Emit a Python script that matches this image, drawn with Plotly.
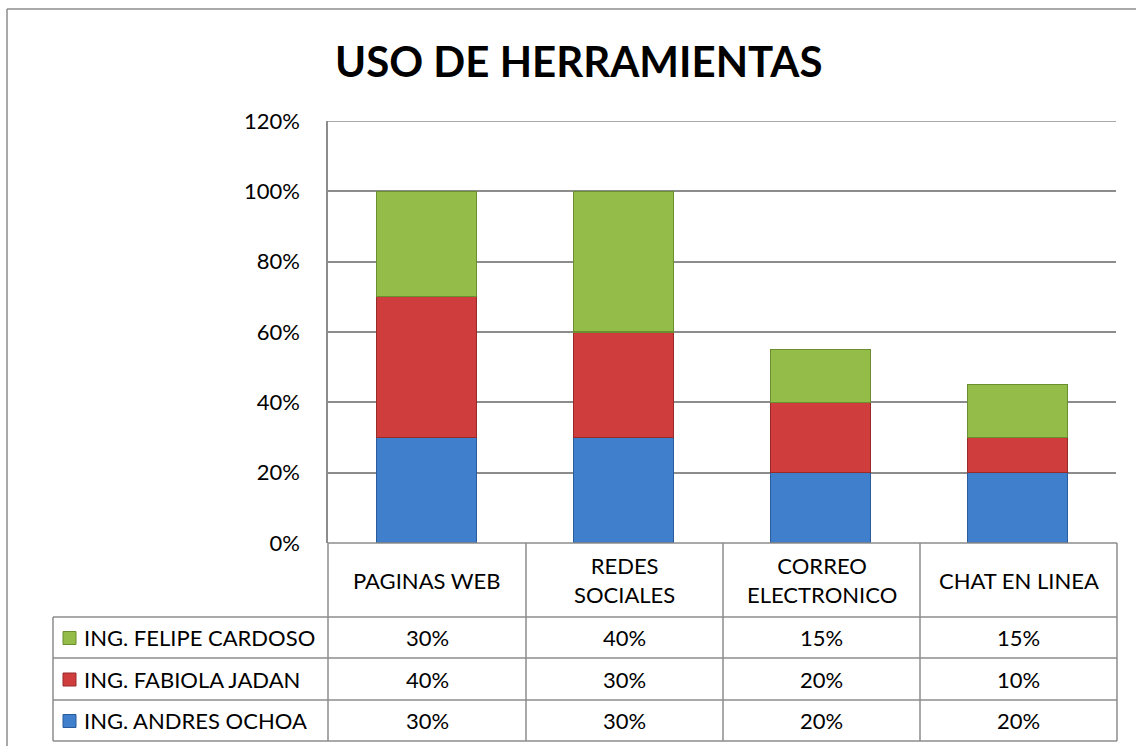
import plotly.graph_objects as go

categories = ["PAGINAS WEB", "REDES SOCIALES", "CORREO ELECTRONICO", "CHAT EN LINEA"]
category_labels = ["PAGINAS WEB", "REDES<br>SOCIALES", "CORREO<br>ELECTRONICO", "CHAT EN LINEA"]
andres_ochoa = [0.30, 0.30, 0.20, 0.20]
fabiola_jadan = [0.40, 0.30, 0.20, 0.10]
felipe_cardoso = [0.30, 0.40, 0.15, 0.15]
series_names = ["ING. ANDRES OCHOA", "ING. FABIOLA JADAN", "ING. FELIPE CARDOSO"]
series_values = [andres_ochoa, fabiola_jadan, felipe_cardoso]
series_colors = ["#3F7FCB", "#CF3D3D", "#93BC48"]
series_edges = ["#2A5C9C", "#992A2A", "#6B8E2E"]
y_ticks = [0, 0.2, 0.4, 0.6, 0.8, 1.0, 1.2]
y_tick_labels = ["0%", "20%", "40%", "60%", "80%", "100%", "120%"]

W, H = 1136, 746
L, R, T, B = 328, 1116, 121, 543
FONT = "Lato"
FS = 22


def px(x):
    return (x - L) / (R - L)


def py(y):
    return (B - y) / (B - T)


fig = go.Figure()
for name, vals, col, edge in zip(series_names, series_values, series_colors, series_edges):
    fig.add_trace(go.Bar(
        x=categories, y=vals, name=name,
        marker=dict(color=col, line=dict(color=edge, width=1.2)),
        showlegend=False,
    ))

fig.update_layout(
    width=W, height=H,
    barmode="stack", bargap=0.49,
    margin=dict(l=L, r=W - R, t=T, b=H - B, pad=0),
    paper_bgcolor="white", plot_bgcolor="white",
    font=dict(family=FONT, size=FS, color="black"),
)
fig.update_yaxes(
    range=[0, max(y_ticks)], tickvals=y_ticks, ticktext=y_tick_labels,
    showgrid=True, gridcolor="#8C8C8C", gridwidth=1.5,
    showline=True, linecolor="#8C8C8C", linewidth=1.5,
    ticks="", ticklabelstandoff=22, zeroline=False,
    tickfont=dict(family=FONT, size=FS, color="black"),
)
fig.update_xaxes(showticklabels=False, showline=False, ticks="", showgrid=False)

line_style = dict(color="#8C8C8C", width=1.5)
shapes = []
# top gridline (at the range end, drawn explicitly)
shapes.append(dict(type="line", xref="paper", yref="y", x0=0, x1=1, y0=max(y_ticks), y1=max(y_ticks),
                   line=line_style, layer="below"))
# outer chart border (top and left)
shapes.append(dict(type="line", xref="paper", yref="paper", x0=px(7), x1=px(W + 5), y0=py(9), y1=py(9), line=line_style))
shapes.append(dict(type="line", xref="paper", yref="paper", x0=px(7), x1=px(7), y0=py(9), y1=py(H + 5), line=line_style))

# data table grid
col_edges = [328, 526, 723, 920, 1117]
row_edges = [543, 617, 658, 700, 741]
for xe in col_edges:
    shapes.append(dict(type="line", xref="paper", yref="paper", x0=px(xe), x1=px(xe), y0=py(543), y1=py(741), line=line_style))
shapes.append(dict(type="line", xref="paper", yref="paper", x0=px(53), x1=px(53), y0=py(617), y1=py(741), line=line_style))
for j, ye in enumerate(row_edges):
    x_start = 328 if j == 0 else 53
    shapes.append(dict(type="line", xref="paper", yref="paper", x0=px(x_start), x1=px(1117), y0=py(ye), y1=py(ye), line=line_style))

annotations = []
annotations.append(dict(text="<b>USO DE HERRAMIENTAS</b>", xref="paper", yref="paper",
                        x=px(578), y=py(61), showarrow=False, xanchor="center", yanchor="middle",
                        font=dict(family=FONT, size=42, color="black")))

col_centers = [(col_edges[i] + col_edges[i + 1]) / 2 for i in range(4)]
for c, lab in zip(col_centers, category_labels):
    annotations.append(dict(text=lab, xref="paper", yref="paper", x=px(c), y=py(580),
                            showarrow=False, xanchor="center", yanchor="middle",
                            font=dict(family=FONT, size=FS, color="black")))

# table rows: top row is last series (FELIPE)
row_order = [2, 1, 0]
for r, si in enumerate(row_order):
    yc = (row_edges[r + 1] + row_edges[r + 2]) / 2
    shapes.append(dict(type="rect", xref="paper", yref="paper",
                       x0=px(63), x1=px(76), y0=py(yc - 6), y1=py(yc + 7),
                       fillcolor=series_colors[si], line=dict(color=series_edges[si], width=1)))
    annotations.append(dict(text=series_names[si], xref="paper", yref="paper", x=px(82), y=py(yc),
                            showarrow=False, xanchor="left", yanchor="middle",
                            font=dict(family=FONT, size=FS, color="black")))
    for c, v in zip(col_centers, series_values[si]):
        annotations.append(dict(text=f"{round(v * 100)}%", xref="paper", yref="paper", x=px(c), y=py(yc),
                                showarrow=False, xanchor="center", yanchor="middle",
                                font=dict(family=FONT, size=FS, color="black")))

fig.update_layout(shapes=shapes, annotations=annotations)
fig.write_html("out.html", config={"displayModeBar": False},
               post_script="document.body.style.margin='0';document.body.style.overflow='hidden';")
